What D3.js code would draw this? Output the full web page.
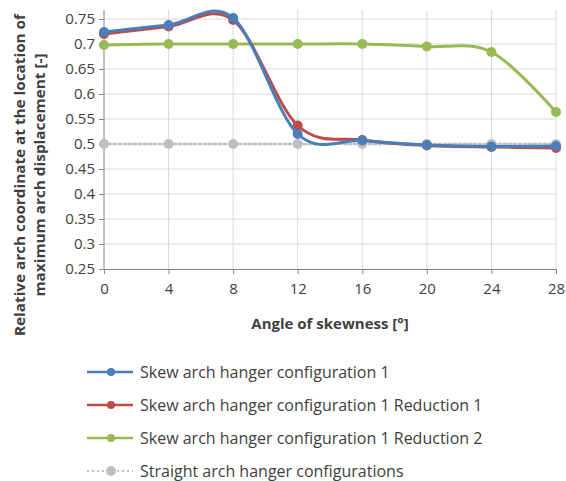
<!DOCTYPE html>
<html><head><meta charset="utf-8">
<script src="https://cdn.jsdelivr.net/npm/d3@7"></script>
<style>body{margin:0;background:#fff}svg{display:block}text{font-family:"Open Sans",sans-serif;fill:#404040}</style>
</head><body><svg id="c" width="566" height="481"></svg>
<script>
const angles = [0, 4, 8, 12, 16, 20, 24, 28];
const skew1 = [0.724, 0.738, 0.752, 0.520, 0.507, 0.498, 0.495, 0.496];
const skew1Red1 = [0.720, 0.735, 0.748, 0.537, 0.508, 0.497, 0.494, 0.492];
const skew1Red2 = [0.698, 0.700, 0.700, 0.700, 0.700, 0.695, 0.684, 0.564];
const straight = [0.5, 0.5, 0.5, 0.5, 0.5, 0.5, 0.5, 0.5];
const yTicks = [0.25, 0.3, 0.35, 0.4, 0.45, 0.5, 0.55, 0.6, 0.65, 0.7, 0.75];
const seriesNames = ["Skew arch hanger configuration 1", "Skew arch hanger configuration 1 Reduction 1", "Skew arch hanger configuration 1 Reduction 2", "Straight arch hanger configurations"];
const colors = ["#4A7EBB", "#BE4B48", "#98B954", "#BFBFBF"];

const series = [skew1, skew1Red1, skew1Red2, straight];
const svg = d3.select("#c");
const x = d3.scaleLinear().domain([0, 28]).range([104, 556]);
const y = d3.scaleLinear().domain([0.25, 0.75]).range([269, 19]);
const topY = 10;

// gridlines
svg.append("g").selectAll("line").data(yTicks.filter(t => t > 0.25)).join("line")
  .attr("x1", x(0)).attr("x2", x(28)).attr("y1", d => y(d)).attr("y2", d => y(d))
  .attr("stroke", "#d9d9d9").attr("stroke-width", 1);
svg.append("g").selectAll("line").data(angles.filter(a => a > 0)).join("line")
  .attr("x1", d => x(d)).attr("x2", d => x(d)).attr("y1", topY).attr("y2", y(0.25))
  .attr("stroke", "#d9d9d9").attr("stroke-width", 1);

// axes
const yAxis = d3.axisLeft(y).tickValues(yTicks).tickFormat(d => String(+d.toFixed(2))).tickSize(5).tickSizeOuter(0);
const gy = svg.append("g").attr("transform", `translate(${x(0)},0)`).call(yAxis);
gy.select(".domain").attr("d", `M0,${topY}V${y(0.25)}`).attr("stroke", "#868686");
gy.selectAll(".tick line").attr("stroke", "#868686");
gy.selectAll(".tick text").attr("x", -9).attr("font-size", 15).attr("fill", "#404040");

const xAxis = d3.axisBottom(x).tickValues(angles).tickSize(5).tickSizeOuter(0);
const gx = svg.append("g").attr("transform", `translate(0,${y(0.25)})`).call(xAxis);
gx.select(".domain").attr("stroke", "#868686");
gx.selectAll(".tick line").attr("stroke", "#868686");
gx.selectAll(".tick text").attr("y", 14).attr("font-size", 15).attr("fill", "#404040");
svg.selectAll(".tick text").style("font-family", '"Open Sans",sans-serif');

// series
const line = d3.line().x((d, i) => x(angles[i])).y(d => y(d)).curve(d3.curveCatmullRom.alpha(0));
const order = [3, 2, 1, 0];
order.forEach(k => {
  const g = svg.append("g");
  const dashed = k === 3;
  g.append("path").datum(series[k]).attr("d", dashed ? d3.line().x((d, i) => x(angles[i])).y(d => y(d)) : line)
    .attr("fill", "none").attr("stroke", colors[k]).attr("stroke-width", dashed ? 2.5 : 3)
    .attr("stroke-dasharray", dashed ? "2,3" : null).attr("stroke-linecap", "round");
  g.selectAll("circle").data(series[k]).join("circle")
    .attr("cx", (d, i) => x(angles[i])).attr("cy", d => y(d)).attr("r", 5).attr("fill", colors[k]);
});

// axis titles
svg.append("text").attr("x", 330).attr("y", 329).attr("text-anchor", "middle")
  .attr("font-size", 15).attr("font-weight", "bold").attr("fill", "#000").text("Angle of skewness [°]");
const yt = svg.append("text").attr("transform", "translate(0,175) rotate(-90)").attr("text-anchor", "middle")
  .attr("font-size", 15).attr("font-weight", "bold").attr("fill", "#000");
yt.append("tspan").attr("x", 0).attr("y", 25).attr("textLength", 322).attr("lengthAdjust", "spacingAndGlyphs")
  .text("Relative arch coordinate at the location of");
yt.append("tspan").attr("x", 0).attr("y", 45).attr("textLength", 243).attr("lengthAdjust", "spacingAndGlyphs")
  .text("maximum arch displacement [-]");

// legend
const ly = [372, 405, 438, 471];
seriesNames.forEach((name, k) => {
  const g = svg.append("g").attr("transform", `translate(0,${ly[k]})`);
  const dashed = k === 3;
  g.append("line").attr("x1", 87).attr("x2", 133).attr("y1", 0).attr("y2", 0)
    .attr("stroke", colors[k]).attr("stroke-width", dashed ? 2 : 2.5).attr("stroke-dasharray", dashed ? "2,3" : null);
  g.append("circle").attr("cx", 111).attr("cy", 0).attr("r", dashed ? 5 : 4).attr("fill", colors[k]);
  g.append("text").attr("x", 140).attr("y", 5.5).attr("font-size", 16).attr("fill", "#404040").text(name);
});
</script></body></html>
